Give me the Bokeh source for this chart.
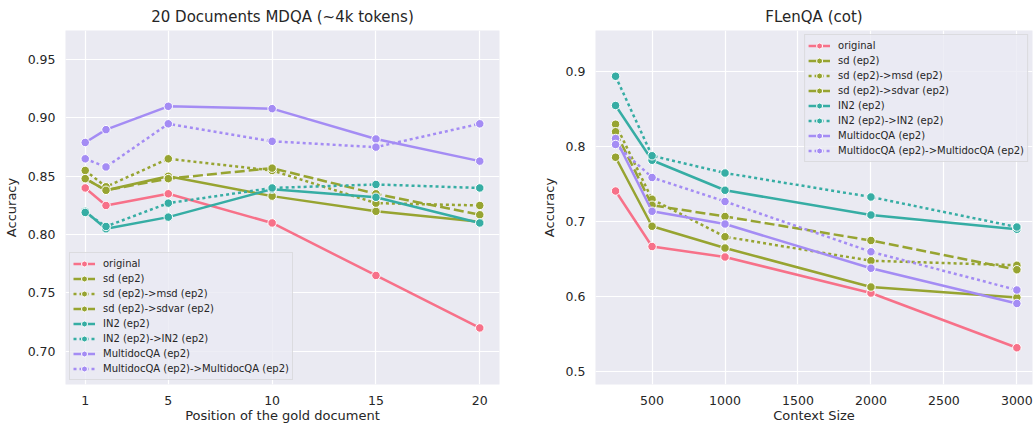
from bokeh.plotting import figure
from bokeh.layouts import row
from bokeh.models import Range1d, FixedTicker, Legend, LegendItem, NumeralTickFormatter
from bokeh.embed import file_html
from bokeh.resources import INLINE

# ---------------- data ----------------
series_names = ["original", "sd (ep2)", "sd (ep2)->msd (ep2)", "sd (ep2)->sdvar (ep2)",
                "IN2 (ep2)", "IN2 (ep2)->IN2 (ep2)", "MultidocQA (ep2)",
                "MultidocQA (ep2)->MultidocQA (ep2)"]

mdqa_pos = [1, 2, 5, 10, 15, 20]
mdqa_original = [0.840, 0.825, 0.835, 0.810, 0.765, 0.720]
mdqa_sd = [0.848, 0.838, 0.850, 0.833, 0.820, 0.811]
mdqa_sd_msd = [0.855, 0.841, 0.865, 0.855, 0.827, 0.825]
mdqa_sd_sdvar = [0.848, 0.838, 0.848, 0.857, 0.835, 0.817]
mdqa_in2 = [0.820, 0.805, 0.815, 0.839, 0.832, 0.810]
mdqa_in2_in2 = [0.819, 0.807, 0.827, 0.840, 0.843, 0.840]
mdqa_multidoc = [0.879, 0.890, 0.910, 0.908, 0.882, 0.863]
mdqa_multidoc_multidoc = [0.865, 0.858, 0.895, 0.880, 0.875, 0.895]

flen_ctx = [250, 500, 1000, 2000, 3000]
flen_original = [0.740, 0.666, 0.652, 0.604, 0.531]
flen_sd = [0.785, 0.693, 0.664, 0.612, 0.598]
flen_sd_msd = [0.829, 0.729, 0.679, 0.647, 0.641]
flen_sd_sdvar = [0.819, 0.721, 0.706, 0.674, 0.635]
flen_in2 = [0.854, 0.781, 0.741, 0.708, 0.689]
flen_in2_in2 = [0.893, 0.787, 0.764, 0.732, 0.692]
flen_multidoc = [0.810, 0.713, 0.696, 0.637, 0.590]
flen_multidoc_multidoc = [0.802, 0.758, 0.726, 0.659, 0.608]

left_xticks = [1, 5, 10, 15, 20]
left_yticks = [0.70, 0.75, 0.80, 0.85, 0.90, 0.95]
right_xticks = [500, 1000, 1500, 2000, 2500, 3000]
right_yticks = [0.5, 0.6, 0.7, 0.8, 0.9]

# ---------------- style ----------------
PINK, OLIVE, TEAL, PURPLE = "#f77189", "#97a431", "#36ada4", "#a48cf4"
colors = [PINK, OLIVE, OLIVE, OLIVE, TEAL, TEAL, PURPLE, PURPLE]
dashes = ["solid", "solid", "3 3", "10 4", "solid", "3 3", "solid", "3 3"]
TXT = "#262626"
FONT = "DejaVu Sans"


def make_fig(title, xlabel, xs, ys_list, xr, yr, xticks, yticks, yfmt,
             border_left, frame_w, border_right, legend_loc):
    p = figure(width=border_left + frame_w + border_right, height=429,
               x_range=Range1d(*xr), y_range=Range1d(*yr),
               output_backend="svg", toolbar_location=None,
               min_border_left=border_left, min_border_right=border_right,
               min_border_top=29, min_border_bottom=46,
               frame_width=frame_w, frame_height=354)
    p.background_fill_color = "#eaeaf2"
    p.border_fill_color = "white"
    p.outline_line_color = None
    for g in (p.xgrid, p.ygrid):
        g.grid_line_color = "white"
        g.grid_line_width = 1.2
    p.xaxis.ticker = FixedTicker(ticks=xticks)
    p.yaxis.ticker = FixedTicker(ticks=yticks)
    p.yaxis.formatter = NumeralTickFormatter(format=yfmt)
    for ax in (p.xaxis, p.yaxis):
        ax.axis_line_color = None
        ax.major_tick_line_color = None
        ax.minor_tick_line_color = None
        ax.major_tick_out = 0
        ax.major_tick_in = 0
        ax.minor_tick_out = 0
        ax.minor_tick_in = 0
        ax.major_label_text_font = FONT
        ax.major_label_text_font_size = "12.5px"
        ax.major_label_text_color = TXT
        ax.axis_label_text_font = FONT
        ax.axis_label_text_font_size = "13px"
        ax.axis_label_text_font_style = "normal"
        ax.axis_label_text_color = TXT
    p.xaxis.major_label_standoff = 11
    p.yaxis.major_label_standoff = 10
    p.xaxis.axis_label = xlabel
    p.yaxis.axis_label = "Accuracy"
    p.xaxis.axis_label_standoff = 0
    p.yaxis.axis_label_standoff = 6
    p.title.text = title
    p.title.align = "center"
    p.title.text_font = FONT
    p.title.text_font_size = "15px"
    p.title.text_font_style = "normal"
    p.title.text_color = TXT

    items = []
    for name, ys, c, d in zip(series_names, ys_list, colors, dashes):
        lr = p.line(xs, ys, line_color=c, line_width=2.5, line_dash=d)
        sr = p.scatter(xs, ys, size=8.5, fill_color=c, line_color="white", line_width=1)
        items.append(LegendItem(label=name, renderers=[lr, sr]))
    leg = Legend(items=items, location=legend_loc)
    leg.label_text_font = FONT
    leg.label_text_font_size = "10px"
    leg.label_text_color = TXT
    leg.glyph_width = 22
    leg.glyph_height = 15
    leg.label_height = 15
    leg.spacing = 0
    leg.padding = 3
    leg.margin = 4
    leg.label_standoff = 8
    leg.background_fill_color = "#eaeaf2"
    leg.background_fill_alpha = 0.8
    leg.border_line_color = "#cccccc"
    leg.border_line_width = 1
    p.add_layout(leg, "center")
    return p


left = make_fig("20 Documents MDQA (~4k tokens)", "Position of the gold document",
                mdqa_pos,
                [mdqa_original, mdqa_sd, mdqa_sd_msd, mdqa_sd_sdvar, mdqa_in2,
                 mdqa_in2_in2, mdqa_multidoc, mdqa_multidoc_multidoc],
                (0.05, 20.95), (0.6715, 0.975), left_xticks, left_yticks, "0.00",
                64, 434, 10, "bottom_left")

right = make_fig("FLenQA (cot)", "Context Size",
                 flen_ctx,
                 [flen_original, flen_sd, flen_sd_msd, flen_sd_sdvar, flen_in2,
                  flen_in2_in2, flen_multidoc, flen_multidoc_multidoc],
                 (112.5, 3107), (0.482, 0.954), right_xticks, right_yticks, "0.0",
                 86, 437, 3, "top_right")

layout = row(left, right)
open("out.html", "w").write(file_html(layout, INLINE))
